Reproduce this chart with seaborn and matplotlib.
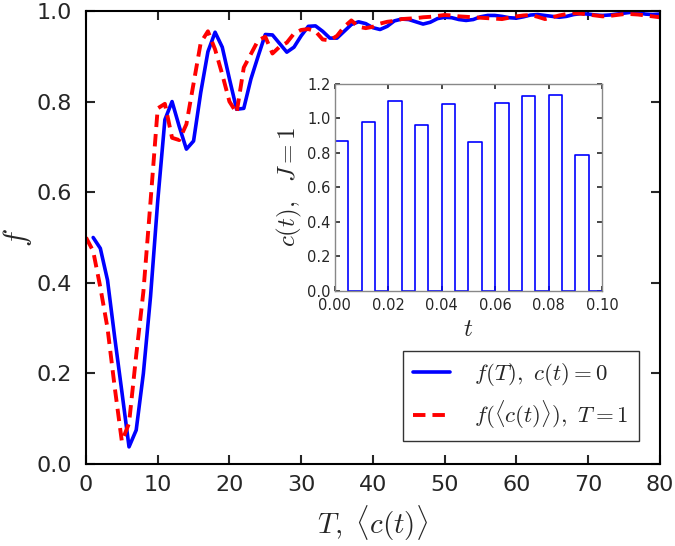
import numpy as np
import pandas as pd
import matplotlib
matplotlib.use("Agg")
import matplotlib.pyplot as plt
import seaborn as sns

# fidelity vs. total time T (c(t)=0), sampled at T = 1..80
T_blue = list(range(1, 81))
f_blue = [0.500, 0.476, 0.406, 0.280, 0.160, 0.038, 0.075, 0.200, 0.370, 0.580,
          0.760, 0.800, 0.745, 0.695, 0.713, 0.820, 0.910, 0.953, 0.920, 0.850,
          0.783, 0.785, 0.850, 0.900, 0.948, 0.947, 0.928, 0.909, 0.920, 0.945,
          0.966, 0.967, 0.955, 0.940, 0.940, 0.955, 0.970, 0.976, 0.972, 0.963,
          0.959, 0.966, 0.978, 0.982, 0.981, 0.976, 0.971, 0.975, 0.983, 0.986,
          0.985, 0.981, 0.979, 0.981, 0.987, 0.990, 0.990, 0.988, 0.985, 0.984,
          0.987, 0.991, 0.992, 0.990, 0.988, 0.986, 0.988, 0.992, 0.994, 0.993,
          0.991, 0.990, 0.991, 0.993, 0.995, 0.997, 0.996, 0.993, 0.992, 0.993]

# fidelity vs. mean control amplitude <c(t)> (T=1), sampled at 0..80
C_red = list(range(0, 81))
f_red = [0.500, 0.470, 0.390, 0.300, 0.170, 0.050, 0.090, 0.240, 0.380, 0.580,
         0.785, 0.795, 0.720, 0.715, 0.750, 0.840, 0.930, 0.955, 0.915, 0.860,
         0.800, 0.775, 0.875, 0.905, 0.935, 0.943, 0.906, 0.921, 0.930, 0.950,
         0.958, 0.960, 0.955, 0.937, 0.935, 0.945, 0.965, 0.979, 0.965, 0.962,
         0.965, 0.972, 0.976, 0.978, 0.982, 0.983, 0.984, 0.986, 0.987, 0.989,
         0.991, 0.990, 0.988, 0.987, 0.986, 0.985, 0.984, 0.983, 0.982, 0.985,
         0.988, 0.990, 0.991, 0.987, 0.982, 0.986, 0.990, 0.993, 0.995, 0.994,
         0.992, 0.990, 0.988, 0.989, 0.991, 0.993, 0.993, 0.992, 0.990, 0.988,
         0.986]

# inset: pulse amplitudes c(t), one pulse per 0.01 interval
pulse_start = [0.00, 0.01, 0.02, 0.03, 0.04, 0.05, 0.06, 0.07, 0.08, 0.09]
pulse_width = 0.005
pulse_amp = [0.87, 0.975, 1.10, 0.96, 1.08, 0.86, 1.09, 1.13, 1.135, 0.785]

sns.set_style("ticks")
plt.rcParams["mathtext.fontset"] = "cm"
plt.rcParams["font.family"] = ["DejaVu Sans"]

fig = plt.figure(figsize=(6.75, 5.46), dpi=100)
ax = fig.add_axes([0.1274, 0.150, 0.850, 0.830])

df_blue = pd.DataFrame({"x": T_blue, "f": f_blue})
df_red = pd.DataFrame({"x": C_red, "f": f_red})
sns.lineplot(data=df_blue, x="x", y="f", ax=ax, color="#0000ff", lw=2.6,
             estimator=None, label=r"$f(T),\ c(t)=0$")
sns.lineplot(data=df_red, x="x", y="f", ax=ax, color="#ff0000", lw=2.8,
             estimator=None, dashes=False, label=r"$f(\langle c(t)\rangle),\ T=1$")
ax.lines[1].set_linestyle((0, (3.2, 1.8)))

ax.set_xlim(0, 80)
ax.set_ylim(0, 1.0)
ax.set_xticks(np.arange(0, 81, 10))
ax.set_yticks(np.arange(0, 1.01, 0.2))
ax.tick_params(direction="in", length=6.5, width=1.5, labelsize=16,
               top=True, right=True)
ax.tick_params(axis="y", pad=10)
ax.tick_params(axis="x", pad=8)
for s in ax.spines.values():
    s.set_linewidth(1.5)
    s.set_color("black")
ax.set_xlabel(r"$T,\ \langle c(t)\rangle$", fontsize=21, labelpad=6)
ax.set_ylabel(r"$f$", fontsize=22, labelpad=2)

leg = ax.legend(loc="lower right", bbox_to_anchor=(0.963, 0.051), borderaxespad=0,
                fontsize=16.5, fancybox=False, frameon=True, handlelength=1.6,
                handletextpad=1.05, borderpad=0.45, labelspacing=0.45)
leg.get_frame().set_edgecolor("black")
leg.get_frame().set_linewidth(1.0)

# inset with the pulse sequence
t_pts, c_pts = [], []
for t0, a in zip(pulse_start, pulse_amp):
    t_pts += [t0, t0, t0 + pulse_width, t0 + pulse_width]
    c_pts += [0.0, a, a, 0.0]
t_pts.append(0.10)
c_pts.append(0.0)
df_pulse = pd.DataFrame({"t": t_pts, "c": c_pts})

axin = fig.add_axes([0.496, 0.467, 0.396, 0.380])
sns.lineplot(data=df_pulse, x="t", y="c", ax=axin, color="#0000ff", lw=1.2,
             estimator=None, sort=False)
axin.set_xlim(0, 0.10)
axin.set_ylim(0, 1.2)
axin.set_xticks(np.arange(0, 0.101, 0.02))
axin.set_yticks(np.arange(0, 1.21, 0.2))
axin.xaxis.set_major_formatter(matplotlib.ticker.FormatStrFormatter("%.2f"))
axin.yaxis.set_major_formatter(matplotlib.ticker.FormatStrFormatter("%.1f"))
axin.tick_params(direction="in", length=3.5, width=1.2, labelsize=10.5,
                 top=True, right=True, pad=3)
axin.tick_params(axis="x", pad=5)
for s in axin.spines.values():
    s.set_linewidth(1.0)
    s.set_color("#888888")
axin.set_xlabel(r"$t$", fontsize=18, labelpad=3)
axin.set_ylabel(r"$c(t),\ \ J=1$", fontsize=18, labelpad=2)

fig.savefig("out.png", dpi=100)
